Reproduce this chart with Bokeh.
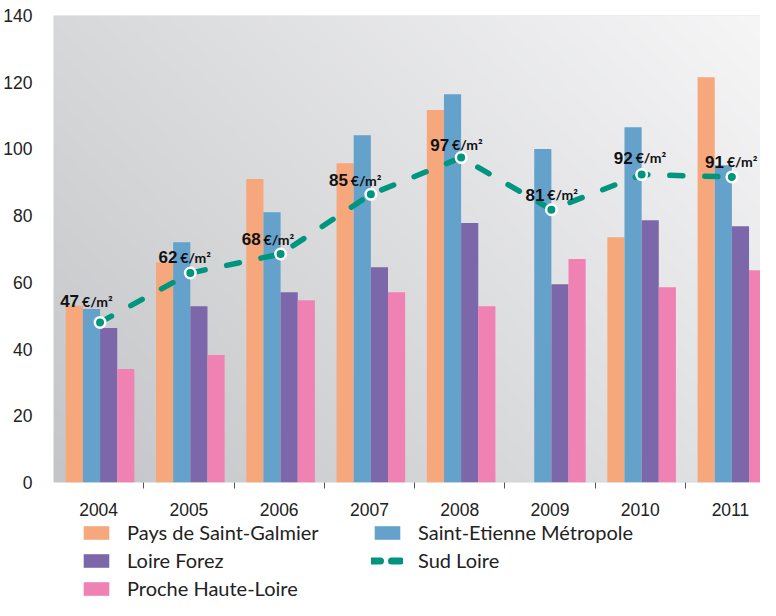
import numpy as np
from bokeh.plotting import figure
from bokeh.layouts import column
from bokeh.models import Range1d, FixedTicker, ColumnDataSource, Legend, LegendItem
from bokeh.core.properties import value
from bokeh.embed import file_html
from bokeh.resources import INLINE

# ---------------- data ----------------
years = ["2004", "2005", "2006", "2007", "2008", "2009", "2010", "2011"]
pays_saint_galmier = [53.0, 66.0, 91.0, 95.7, 111.7, None, 73.5, 121.5]
saint_etienne_metropole = [52.0, 72.0, 81.0, 104.1, 116.4, 100.0, 106.5, 95.1]
loire_forez = [46.3, 52.8, 57.0, 64.5, 77.8, 59.4, 78.6, 76.8]
proche_haute_loire = [34.0, 38.2, 54.6, 57.0, 52.8, 67.0, 58.5, 63.6]
sud_loire = [48.0, 62.8, 68.5, 86.4, 97.4, 81.8, 92.3, 91.6]
sud_loire_labels = [47, 62, 68, 85, 97, 81, 92, 91]
y_ticks = [0, 20, 40, 60, 80, 100, 120, 140]
series_names = ["Pays de Saint-Galmier", "Saint-Etienne Métropole",
                "Loire Forez", "Proche Haute-Loire"]
line_name = "Sud Loire"

# ---------------- styles ----------------
ORANGE = "#F6A77B"
BLUE = "#64A1CB"
PURPLE = "#7B67A9"
PINK = "#F081B3"
TEAL = "#00957E"
colors = [ORANGE, BLUE, PURPLE, PINK]
TICK_FONT = "Liberation Sans"
LEGEND_FONT = "Lato"
label_dx = [-21, -13, -20, -23, -12, -7, -9, -8]   # px offsets of value labels
label_dy = [-21, -16, -15, -14, -13, -15, -17, -15]

n = len(years)
X_END = 7.833
BAR_W = 0.19
SHIFT = 0.016
centers = np.arange(n) + 0.5

p = figure(width=760, height=520, output_backend="svg", toolbar_location=None,
           x_range=Range1d(0, X_END), y_range=Range1d(0, 140),
           min_border_left=42, min_border_right=0, min_border_top=15,
           min_border_bottom=38)
p.outline_line_color = None
p.background_fill_color = "#dcdde0"
p.border_fill_color = "white"

# gradient background of the frame
H, W = 150, 220
u = np.linspace(0, 1, W)[None, :]
v = np.linspace(0, 1, H)[:, None]
t = (u * 718 + v * 467) / (718 + 467)
c0 = np.array([0xC4, 0xC5, 0xC8], dtype=float)
c1 = np.array([0xF6, 0xF6, 0xF7], dtype=float)
img = np.empty((H, W), dtype=np.uint32)
view = img.view(dtype=np.uint8).reshape((H, W, 4))
for k in range(3):
    view[:, :, k] = (c0[k] + (c1[k] - c0[k]) * t).astype(np.uint8)
view[:, :, 3] = 255
p.image_rgba(image=[img], x=0, y=0, dw=X_END, dh=140)

# bars
series = [pays_saint_galmier, saint_etienne_metropole, loire_forez, proche_haute_loire]
for k, vals in enumerate(series):
    top = np.array([np.nan if vv is None else vv for vv in vals], dtype=float)
    xs = centers + SHIFT + (k - 1.5) * BAR_W
    src = ColumnDataSource(dict(x=xs, top=top))
    p.vbar(x="x", top="top", bottom=0, width=BAR_W, source=src,
           fill_color=colors[k], line_color=None)

# Sud Loire line
lx = centers + SHIFT
line_src = ColumnDataSource(dict(x=lx, y=sud_loire))
p.line(x="x", y="y", source=line_src, line_color=TEAL, line_width=5.5,
       line_dash="13 22", line_cap="round")
p.scatter(x="x", y="y", source=line_src, size=10.5, fill_color=TEAL,
          line_color="white", line_width=2.5)

# value labels
lbl_src = ColumnDataSource(dict(
    x=lx, y=sud_loire,
    num=[str(vv) for vv in sud_loire_labels],
    unit=["€/m²"] * n,
    dx=label_dx, dy=label_dy, dxu=[d + 3 for d in label_dx]))
p.text(x="x", y="y", text="num", source=lbl_src, x_offset="dx", y_offset="dy",
       text_align="right", text_baseline="alphabetic",
       text_font=value(TICK_FONT), text_font_style="bold", text_font_size="17px",
       text_color="#111111")
p.text(x="x", y="y", text="unit", source=lbl_src, x_offset="dxu", y_offset="dy",
       text_align="left", text_baseline="alphabetic",
       text_font=value(LEGEND_FONT), text_font_style="bold", text_font_size="14px",
       text_color="#111111")

# axes
p.xgrid.visible = False
p.ygrid.ticker = FixedTicker(ticks=y_ticks)
p.ygrid.grid_line_color = "white"
p.ygrid.grid_line_width = 2

p.yaxis.ticker = FixedTicker(ticks=y_ticks)
p.yaxis.axis_line_color = None
p.yaxis.major_tick_line_color = None
p.yaxis.minor_tick_line_color = None
p.yaxis.major_label_standoff = 15
p.yaxis.major_label_text_font = TICK_FONT
p.yaxis.major_label_text_font_size = "17.5px"
p.yaxis.major_label_text_color = "#222222"

p.xaxis.ticker = FixedTicker(ticks=list(centers), minor_ticks=list(range(1, n)))
p.xaxis.major_label_overrides = {float(c): y for c, y in zip(centers, years)}
p.xaxis.axis_line_color = None
p.xaxis.major_tick_line_color = None
p.xaxis.major_tick_out = 0
p.xaxis.major_tick_in = 0
p.xaxis.minor_tick_line_color = "#555555"
p.xaxis.minor_tick_out = 6
p.xaxis.minor_tick_in = 0
p.xaxis.major_label_standoff = 14
p.xaxis.major_label_text_font = TICK_FONT
p.xaxis.major_label_text_font_size = "17.5px"
p.xaxis.major_label_text_color = "#222222"

# ---------------- legend strip ----------------
pl = figure(width=760, height=80, output_backend="svg", toolbar_location=None,
            x_range=Range1d(0, 1), y_range=Range1d(0, 1),
            x_axis_location=None, y_axis_location=None,
            min_border_left=0, min_border_right=0, min_border_top=0,
            min_border_bottom=0)
pl.outline_line_color = None
pl.grid.visible = False
pl.background_fill_color = "white"
pl.border_fill_color = "white"

leg_r = {}
for name, col in zip(series_names, colors):
    leg_r[name] = pl.vbar(x=[np.nan], top=[np.nan], width=0.1,
                          fill_color=col, line_color=None)
leg_r[line_name] = pl.line(x=[np.nan, np.nan], y=[np.nan, np.nan], line_color=TEAL,
                           line_width=7, line_dash="9 11", line_cap="round")
order = ["Pays de Saint-Galmier", "Loire Forez", "Proche Haute-Loire",
         "Saint-Etienne Métropole", "Sud Loire"]
items = [LegendItem(label=nm, renderers=[leg_r[nm]]) for nm in order]
legend = Legend(items=items, location=(27, 0), orientation="vertical", nrows=3,
                padding=0, margin=0, spacing=4, border_line_color=None,
                background_fill_alpha=0, glyph_width=32, glyph_height=17,
                label_height=20, label_width=240, label_standoff=15,
                label_text_font=LEGEND_FONT, label_text_font_size="20px",
                label_text_color="#222222")
pl.add_layout(legend)

layout = column(p, pl, spacing=0)
open("out.html", "w").write(file_html(layout, INLINE))
